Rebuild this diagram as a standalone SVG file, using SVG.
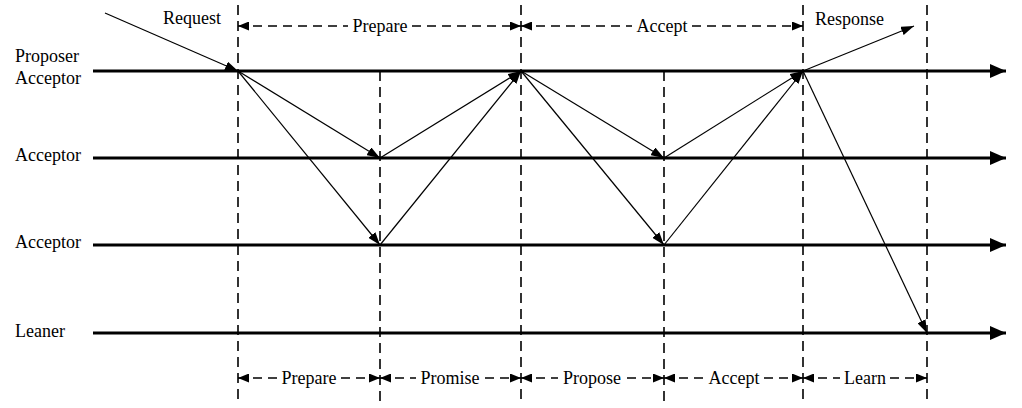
<svg xmlns="http://www.w3.org/2000/svg" width="1022" height="408" viewBox="0 0 1022 408">
<style>
text{font-family:"Liberation Serif","Times New Roman",serif;font-size:18px;fill:#000}
.axis{stroke:#000;stroke-width:3;fill:none}
.vdash{stroke:#000;stroke-width:1.6;stroke-dasharray:10,6;fill:none}
.dim{stroke:#000;stroke-width:1.5;stroke-dasharray:9,6;fill:none}
.msg{stroke:#000;stroke-width:1.2;fill:none}
.mid{text-anchor:middle}
</style>
<defs>
<marker id="ah" markerUnits="userSpaceOnUse" markerWidth="16" markerHeight="14" refX="16" refY="7" orient="auto"><path d="M0,0 L16,7 L0,14 z" fill="#000"/></marker>
<marker id="mh" markerUnits="userSpaceOnUse" markerWidth="13" markerHeight="9" refX="13" refY="4.5" orient="auto"><path d="M0,0 L13,4.5 L0,9 z" fill="#000"/></marker>
<marker id="dh" markerUnits="userSpaceOnUse" markerWidth="11" markerHeight="9" refX="11" refY="4.5" orient="auto-start-reverse"><path d="M0,0 L11,4.5 L0,9 z" fill="#000"/></marker>
</defs>
<g id="lanes">
<g id="lane-proposer"><text x="15" y="62">Proposer</text><text x="15" y="84">Acceptor</text><line class="axis" x1="93" y1="71" x2="1006" y2="71" marker-end="url(#ah)"/></g>
<g id="lane-acceptor2"><text x="15" y="161">Acceptor</text><line class="axis" x1="93" y1="158" x2="1006" y2="158" marker-end="url(#ah)"/></g>
<g id="lane-acceptor3"><text x="15" y="248">Acceptor</text><line class="axis" x1="93" y1="245" x2="1006" y2="245" marker-end="url(#ah)"/></g>
<g id="lane-leaner"><text x="15" y="337">Leaner</text><line class="axis" x1="93" y1="333" x2="1006" y2="333" marker-end="url(#ah)"/></g>
</g>
<g id="timelines">
<line class="vdash" x1="238" y1="5" x2="238" y2="405"/>
<line class="vdash" x1="380" y1="71" x2="380" y2="405"/>
<line class="vdash" x1="521" y1="5" x2="521" y2="405"/>
<line class="vdash" x1="664" y1="71" x2="664" y2="405"/>
<line class="vdash" x1="803" y1="5" x2="803" y2="405"/>
<line class="vdash" x1="927" y1="5" x2="927" y2="405"/>
</g>
<g id="connectors">
<line class="msg" x1="105" y1="13" x2="238" y2="71" marker-end="url(#mh)"/>
<line class="msg" x1="238" y1="71" x2="380" y2="158" marker-end="url(#mh)"/>
<line class="msg" x1="238" y1="71" x2="380" y2="245" marker-end="url(#mh)"/>
<line class="msg" x1="380" y1="158" x2="521" y2="71" marker-end="url(#mh)"/>
<line class="msg" x1="380" y1="245" x2="521" y2="71" marker-end="url(#mh)"/>
<line class="msg" x1="521" y1="71" x2="664" y2="158" marker-end="url(#mh)"/>
<line class="msg" x1="521" y1="71" x2="664" y2="245" marker-end="url(#mh)"/>
<line class="msg" x1="664" y1="158" x2="803" y2="71" marker-end="url(#mh)"/>
<line class="msg" x1="664" y1="245" x2="803" y2="71" marker-end="url(#mh)"/>
<line class="msg" x1="803" y1="71" x2="914" y2="26" marker-end="url(#mh)"/>
<line class="msg" x1="803" y1="71" x2="927" y2="333" marker-end="url(#mh)"/>
</g>
<g id="labels-top">
<text x="163" y="24">Request</text>
<text x="815" y="25">Response</text>
<g id="dim-prepare-top"><line class="dim" x1="238" y1="26" x2="348" y2="26" marker-start="url(#dh)"/><text class="mid" x="380" y="32">Prepare</text><line class="dim" x1="412" y1="26" x2="521" y2="26" marker-end="url(#dh)"/></g>
<g id="dim-accept-top"><line class="dim" x1="521" y1="26" x2="632" y2="26" marker-start="url(#dh)"/><text class="mid" x="662" y="32">Accept</text><line class="dim" x1="692" y1="26" x2="803" y2="26" marker-end="url(#dh)"/></g>
</g>
<g id="labels-bottom">
<g id="dim-prepare"><line class="dim" x1="238" y1="378" x2="278" y2="378" marker-start="url(#dh)"/><text class="mid" x="309" y="384">Prepare</text><line class="dim" x1="341" y1="378" x2="380" y2="378" marker-end="url(#dh)"/></g>
<g id="dim-promise"><line class="dim" x1="380" y1="378" x2="416" y2="378" marker-start="url(#dh)"/><text class="mid" x="450" y="384">Promise</text><line class="dim" x1="485" y1="378" x2="521" y2="378" marker-end="url(#dh)"/></g>
<g id="dim-propose"><line class="dim" x1="521" y1="378" x2="558" y2="378" marker-start="url(#dh)"/><text class="mid" x="592" y="384">Propose</text><line class="dim" x1="627" y1="378" x2="664" y2="378" marker-end="url(#dh)"/></g>
<g id="dim-accept"><line class="dim" x1="664" y1="378" x2="703" y2="378" marker-start="url(#dh)"/><text class="mid" x="734" y="384">Accept</text><line class="dim" x1="764" y1="378" x2="803" y2="378" marker-end="url(#dh)"/></g>
<g id="dim-learn"><line class="dim" x1="803" y1="378" x2="840" y2="378" marker-start="url(#dh)"/><text class="mid" x="865" y="384">Learn</text><line class="dim" x1="890" y1="378" x2="927" y2="378" marker-end="url(#dh)"/></g>
</g>
</svg>
